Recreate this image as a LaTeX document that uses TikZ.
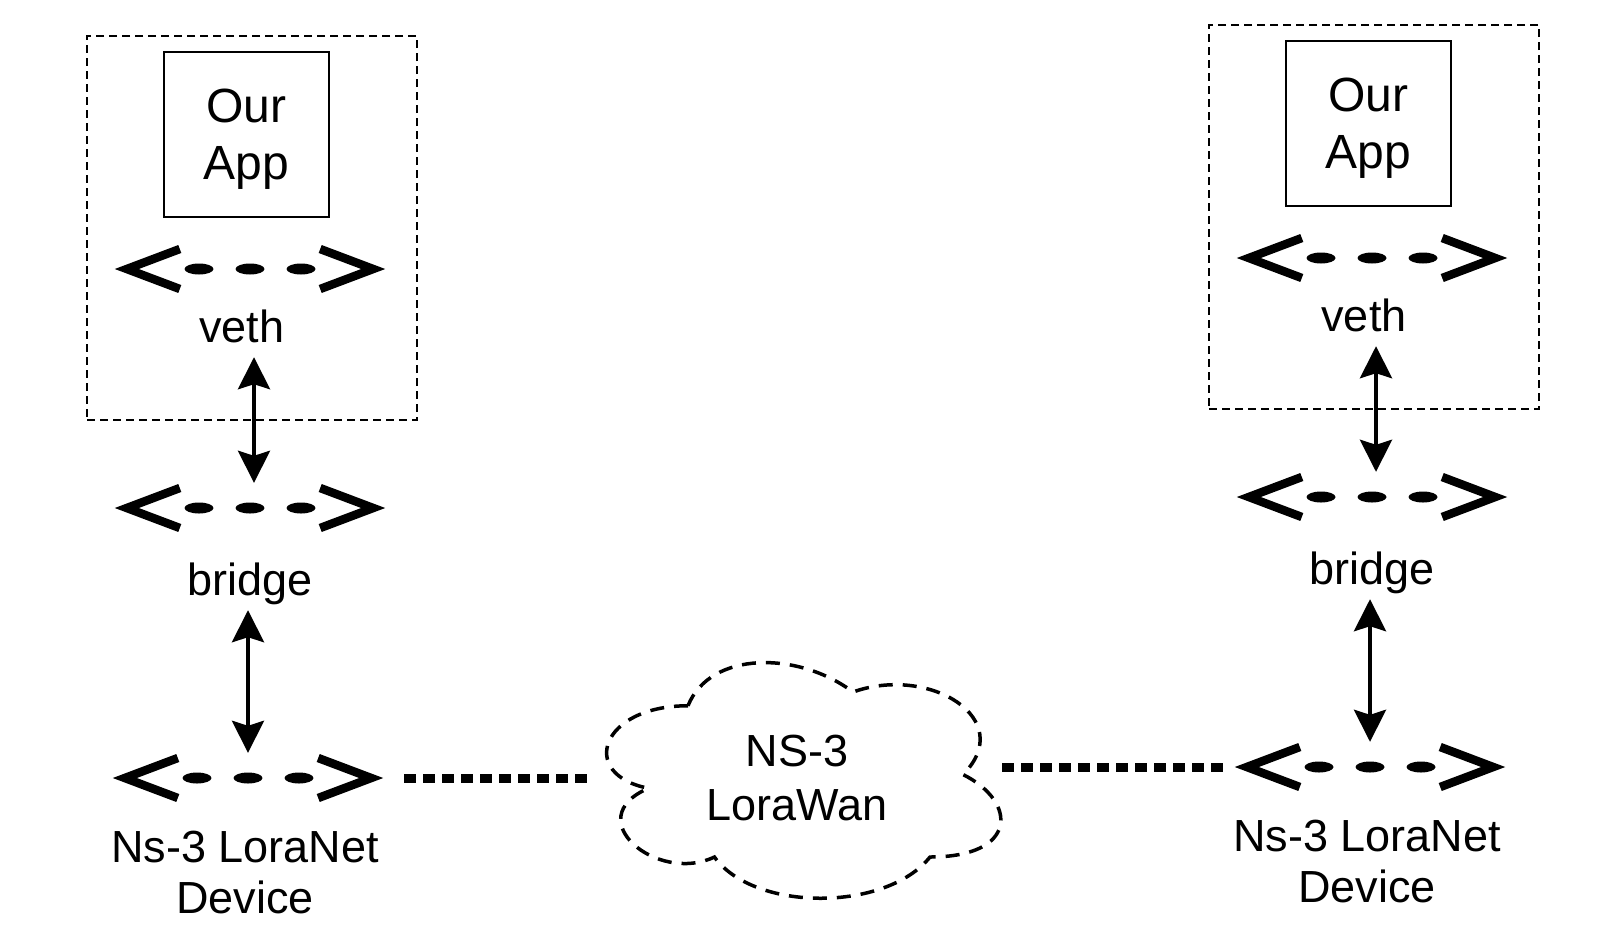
\documentclass[tikz,border=0pt]{standalone}
\usepackage{fontspec}
\setmainfont{Liberation Sans}
\usepackage{tikz}
\usetikzlibrary{arrows.meta}
\newcommand{\labelsize}{\fontsize{45}{51}\selectfont}
\newcommand{\appsize}{\fontsize{48}{57}\selectfont}
\newcommand{\chevw}{64pt}
\newcommand{\chevh}{20pt}
\newcommand{\chevtip}{11pt}
\newcommand{\dashgap}{51pt}

\tikzset{
 groupbox/.style={draw, line width=1.5pt, dash pattern=on 8pt off 5pt, minimum width=330pt, minimum height=384pt, inner sep=0pt},
 appbox/.style={draw, line width=2.5pt, minimum width=165pt, minimum height=165pt, inner sep=0pt, align=center, text depth=-5pt, font=\appsize},
 iface/.style={minimum width=268pt, minimum height=50pt, inner sep=0pt},
 ifacelabel/.style={anchor=base, inner sep=4pt, align=center, font=\labelsize},
 chevron/.style={line width=8.5pt, miter limit=10},
 link/.style={line width=4pt, {Stealth[length=32pt,width=32pt,inset=5pt]}-{Stealth[length=32pt,width=32pt,inset=5pt]}},
 radiolink/.style={line width=9pt, dash pattern=on 12pt off 7pt},
 cloudline/.style={line width=3.5pt, dash pattern=on 14pt off 10pt},
}

\begin{document}
\begin{tikzpicture}[x=1pt, y=-1pt]
\useasboundingbox (0,0) rectangle (1598,938);
%left
\node[groupbox] (lgroup) at (252,228) {};
\node[appbox] (lapp) at (246.5,134.5) {Our\\App};
\node[iface] (lveth) at (250,269) {};
\node[ifacelabel, text depth=11pt] (lvethtxt) at (242,342) {veth};
\node[iface] (lbr) at (250,508) {};
\node[ifacelabel, text depth=11pt] (lbrtxt) at (250,595) {bridge};
\node[iface] (llora) at (248,778) {};
\node[ifacelabel] (lloratxt) at (245,913) {Ns-3 LoraNet\\Device};
\coordinate (lbrtop) at ([xshift=4pt]lbr.north);
%right
\node[groupbox] (rgroup) at (1374,217) {};
\node[appbox] (rapp) at (1368.5,123.5) {Our\\App};
\node[iface] (rveth) at (1372,258) {};
\node[ifacelabel, text depth=11pt] (rvethtxt) at (1364,331) {veth};
\node[iface] (rbr) at (1372,497) {};
\node[ifacelabel, text depth=11pt] (rbrtxt) at (1372,584) {bridge};
\node[iface] (rlora) at (1370,767) {};
\node[ifacelabel] (rloratxt) at (1367,902) {Ns-3 LoraNet\\Device};
\coordinate (rbrtop) at ([xshift=4pt]rbr.north);
%cloud
\node[anchor=base, minimum width=408pt, inner sep=0pt, align=center, font=\fontsize{45}{54}\selectfont] (lwan) at (797,820) {NS-3\\LoraWan};
\begin{scope}[shift={(578,637)}, x=440pt, y=-275pt]
\draw[cloudline] (0.25,0.25) .. controls (0.05,0.25) and (0,0.5) .. (0.16,0.55)
 .. controls (0,0.66) and (0.18,0.9) .. (0.31,0.8)
 .. controls (0.4,1) and (0.7,1) .. (0.8,0.8)
 .. controls (1,0.8) and (1,0.6) .. (0.875,0.5)
 .. controls (1,0.3) and (0.8,0.1) .. (0.625,0.2)
 .. controls (0.5,0.05) and (0.3,0.05) .. (0.25,0.25) -- cycle;
\end{scope}
%interfaces
\foreach \i in {lveth,lbr,llora,rveth,rbr,rlora} {
\draw[chevron] ([xshift=\chevw, yshift=\chevh]\i.west) -- ([xshift=\chevtip]\i.west) -- ([xshift=\chevw, yshift=-\chevh]\i.west);
\draw[chevron] ([xshift=-\chevw, yshift=\chevh]\i.east) -- ([xshift=-\chevtip]\i.east) -- ([xshift=-\chevw, yshift=-\chevh]\i.east);
\fill ([xshift=-\dashgap]\i.center) ellipse (14.5pt and 5.5pt);
\fill (\i.center) ellipse (14.5pt and 5.5pt);
\fill ([xshift=\dashgap]\i.center) ellipse (14.5pt and 5.5pt);
}
%links
\draw[link] (lvethtxt.south -| lbrtop) -- (lbrtop);
\draw[link] (lbrtxt.south -| llora.north) -- (llora.north);
\draw[link] (rvethtxt.south -| rbrtop) -- (rbrtop);
\draw[link] (rbrtxt.south -| rlora.north) -- (rlora.north);
\draw[radiolink, shorten <=22pt, shorten >=2pt] (llora.east) -- (llora.east -| lwan.west);
\draw[radiolink, shorten <=13pt, shorten >=-2pt] (rlora.west) -- (rlora.west -| lwan.east);
\end{tikzpicture}
\end{document}
